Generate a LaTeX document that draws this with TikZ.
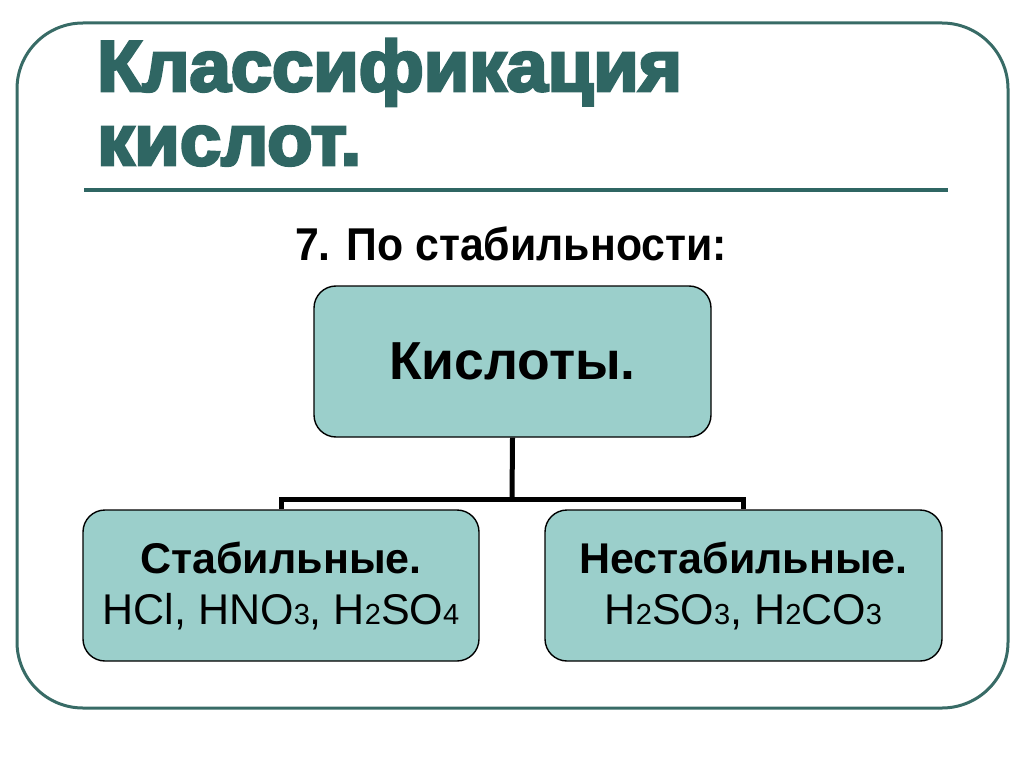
\documentclass[tikz,border=0pt]{standalone}
\usepackage{fontspec}
\usepackage{graphicx}
\setmainfont{Liberation Sans}
\newfontfamily\heavyfont{Liberation Sans Bold}[FakeBold=4]
\definecolor{frameteal}{HTML}{386B66}
\definecolor{titleteal}{HTML}{2F6663}
\definecolor{boxfill}{HTML}{9BCFCB}
\newcommand{\ix}[1]{{\fontsize{29}{29}\selectfont #1}}
\tikzset{
  box/.style={draw=black, line width=1.4pt, fill=boxfill, rounded corners=22pt,
    minimum width=397pt, minimum height=151pt, align=center, inner sep=0pt},
  link/.style={line width=5pt, black}
}
\begin{document}
\begin{tikzpicture}[x=1pt, y=-1pt]
    \useasboundingbox (0,0) rectangle (1024,767);
    % Frame
    \draw[frameteal, line width=3pt, rounded corners=66pt] (17,23) rectangle (1008,708);

    % Title
    \node[anchor=base west, text=titleteal, inner sep=0pt] (title1) at (97,91)
        {\heavyfont\fontsize{72}{78}\selectfont\scalebox{1.03}[1]{Классификация}};
    \node[anchor=base west, text=titleteal, inner sep=0pt] (title2) at (97,165)
        {\heavyfont\fontsize{72}{78}\selectfont\scalebox{1.03}[1]{кислот.}};
    \draw[titleteal, line width=4pt] (84,190) -- (948,190);

    % Subtitle
    \node[anchor=base, inner sep=0pt] (crit) at (511,260)
        {\bfseries\fontsize{46}{50}\selectfont\scalebox{0.93}[1]{7. По стабильности:}};

    % Boxes
    \node[box, font=\bfseries\fontsize{53.5}{60}\selectfont] (acids) at (512.5,361.5) {Кислоты.};
    \node[box, minimum width=396pt, font=\fontsize{43}{51}\selectfont] (stable) at (281,585.5)
        {\textbf{Стабильные.}\\HCl, HNO\ix{3}, H\ix{2}SO\ix{4}};
    \node[box, font=\fontsize{43}{51}\selectfont] (unstable) at (743.5,585.5)
        {\textbf{Нестабильные.}\\H\ix{2}SO\ix{3}, H\ix{2}CO\ix{3}};

    % Connectors
    \coordinate (fork) at (512,499);
    \draw[link] (acids.south) -- (fork);
    \draw[link] (stable.north) -- (stable.north |- fork) -- (unstable.north |- fork) -- (unstable.north);
\end{tikzpicture}
\end{document}
